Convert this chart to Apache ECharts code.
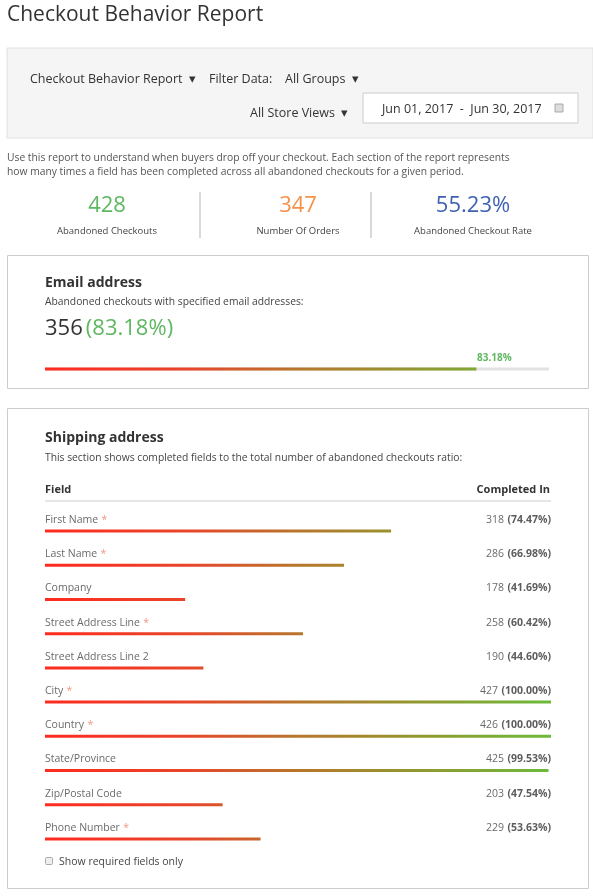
<!DOCTYPE html>
<html>
<head>
<meta charset="utf-8">
<script src="https://cdn.jsdelivr.net/npm/echarts@6/dist/echarts.min.js"></script>
<style>
  html, body { margin: 0; padding: 0; background: #fff; }
  #chart { width: 593px; height: 896px; }
</style>
</head>
<body>
<div id="chart"></div>
<script>
const fields = ['First Name', 'Last Name', 'Company', 'Street Address Line', 'Street Address Line 2',
  'City', 'Country', 'State/Province', 'Zip/Postal Code', 'Phone Number'];
const required = [true, true, false, true, false, true, true, false, false, true];
const counts = [318, 286, 178, 258, 190, 427, 426, 425, 203, 229];
const percents = ['74.47%', '66.98%', '41.69%', '60.42%', '44.60%', '100.00%', '100.00%', '99.53%', '47.54%', '53.63%'];
// bar lengths as drawn in the picture (share of full track)
const barFill = [68.4, 59.1, 27.7, 51.0, 31.3, 100, 100, 99.5, 35.1, 42.6];

const kpiValues = ['428', '347', '55.23%'];
const kpiLabels = ['Abandoned Checkouts', 'Number Of Orders', 'Abandoned Checkout Rate'];
const kpiColors = ['#5fb760', '#f5924a', '#3f62b3'];

const emailCount = 356;
const emailPercent = '83.18%';
const emailFill = [85.6];

const FONT = '"Open Sans", sans-serif';
const chart = echarts.init(document.getElementById('chart'));

const grad = () => new echarts.graphic.LinearGradient(45, 0, 551, 0, [
  { offset: 0, color: '#ff2a1f' },
  { offset: 0.28, color: '#e8452a' },
  { offset: 0.5, color: '#b8762b' },
  { offset: 0.75, color: '#8f9a2f' },
  { offset: 1, color: '#6cba3a' }
], true);

const txt = (x, y, text, style) => ({
  type: 'text', x, y,
  style: Object.assign({ text, fontFamily: FONT, fontSize: 11, fill: '#555', verticalAlign: 'middle' }, style)
});

const graphics = [
  txt(7, 15, 'Checkout Behavior Report', { fontSize: 21, fill: '#333' }),
  { type: 'rect', shape: { x: 7, y: 48, width: 586, height: 90 }, style: { fill: '#f5f5f5', stroke: '#e0e0e0', lineWidth: 1 } },
  txt(30, 79, 'Checkout Behavior Report  ▾', { fontSize: 12.5, fill: '#333' }),
  txt(209, 79, 'Filter Data:', { fontSize: 12.5, fill: '#333' }),
  txt(285, 79, 'All Groups  ▾', { fontSize: 12.5, fill: '#333' }),
  txt(250, 113, 'All Store Views  ▾', { fontSize: 12.5, fill: '#333' }),
  { type: 'rect', shape: { x: 363, y: 93, width: 215, height: 30 }, style: { fill: '#fff', stroke: '#ccc' } },
  txt(382, 109, 'Jun 01, 2017  -  Jun 30, 2017', { fontSize: 12.5, fill: '#333' }),
  { type: 'rect', shape: { x: 555, y: 104, width: 8, height: 8 }, style: { fill: '#ddd', stroke: '#999', lineWidth: 0.8 } },
  txt(7, 158, 'Use this report to understand when buyers drop off your checkout. Each section of the report represents', { fontSize: 10.3 }),
  txt(7, 172, 'how many times a field has been completed across all abandoned checkouts for a given period.', { fontSize: 10.3 }),
  { type: 'line', shape: { x1: 200, y1: 192, x2: 200, y2: 238 }, style: { stroke: '#ccc', lineWidth: 1.5 } },
  { type: 'line', shape: { x1: 371, y1: 192, x2: 371, y2: 238 }, style: { stroke: '#ccc', lineWidth: 1.5 } },

  { type: 'rect', shape: { x: 7.5, y: 255.5, width: 581, height: 133 }, style: { fill: 'none', stroke: '#ccc' } },
  txt(45, 283, 'Email address', { fontSize: 14, fontWeight: 'bold', fill: '#333' }),
  txt(45, 302, 'Abandoned checkouts with specified email addresses:', { fontSize: 10.3, fill: '#444' }),
  { type: 'text', x: 45, y: 329, style: {
      text: '{a|' + emailCount + '} {b|(' + emailPercent + ')}', fontFamily: FONT, verticalAlign: 'middle',
      rich: { a: { fontSize: 22, fill: '#333', fontFamily: FONT }, b: { fontSize: 22, fill: '#5fb760', fontFamily: FONT } } } },
  txt(477, 358, emailPercent, { fontSize: 10, fontWeight: 'bold', fill: '#5fb760' }),

  { type: 'rect', shape: { x: 7.5, y: 408.5, width: 581, height: 480 }, style: { fill: 'none', stroke: '#ccc' } },
  txt(45, 438, 'Shipping address', { fontSize: 14, fontWeight: 'bold', fill: '#333' }),
  txt(45, 458, 'This section shows completed fields to the total number of abandoned checkouts ratio:', { fontSize: 10.3, fill: '#444' }),
  txt(45, 490, 'Field', { fontSize: 11, fontWeight: 'bold', fill: '#333' }),
  txt(550, 490, 'Completed In', { fontSize: 11, fontWeight: 'bold', fill: '#333', align: 'right' }),
  { type: 'line', shape: { x1: 45, y1: 501, x2: 551, y2: 501 }, style: { stroke: '#ccc', lineWidth: 1 } },
  { type: 'rect', shape: { x: 45.5, y: 857.5, width: 7, height: 7, r: 1 }, style: { fill: '#eee', stroke: '#aaa' } },
  txt(59, 862, 'Show required fields only', { fontSize: 10.5, fill: '#444' })
];
kpiValues.forEach((v, i) => {
  const cx = [107, 298, 473][i];
  graphics.push(txt(cx, 206, v, { fontSize: 22, fill: kpiColors[i], align: 'center' }));
  graphics.push(txt(cx, 231, kpiLabels[i], { fontSize: 9.5, fill: '#444', align: 'center' }));
});

const rowNames = fields.map((f, i) => ({
  value: [0, i],
  label: { formatter: '{n|' + f + '}' + (required[i] ? ' {s|*}' : '') }
}));
const rowValues = counts.map((c, i) => ({
  value: [100, i],
  label: { formatter: '{c|' + c + '} {p|(' + percents[i] + ')}' }
}));

chart.setOption({
  animation: false,
  graphic: graphics,
  grid: [
    { left: 45, width: 506, top: 514, height: 342 },
    { left: 45, width: 504, top: 367, height: 4 }
  ],
  xAxis: [
    { type: 'value', min: 0, max: 100, show: false, gridIndex: 0 },
    { type: 'value', min: 0, max: 100, show: false, gridIndex: 1 }
  ],
  yAxis: [
    { type: 'category', data: fields, inverse: true, show: false, gridIndex: 0 },
    { type: 'category', data: ['Email'], show: false, gridIndex: 1 }
  ],
  series: [
    {
      type: 'bar', xAxisIndex: 0, yAxisIndex: 0, barWidth: 3, data: barFill,
      itemStyle: { color: grad() }, silent: true
    },
    {
      type: 'scatter', xAxisIndex: 0, yAxisIndex: 0, symbolSize: 0, data: rowNames, silent: true,
      label: { show: true, position: [0, -11], align: 'left', verticalAlign: 'middle',
        rich: { n: { fontFamily: FONT, fontSize: 10.5, color: '#444' }, s: { fontFamily: FONT, fontSize: 10.5, color: '#f07a60' } } }
    },
    {
      type: 'scatter', xAxisIndex: 0, yAxisIndex: 0, symbolSize: 0, data: rowValues, silent: true,
      label: { show: true, position: [0, -11], align: 'right', verticalAlign: 'middle',
        rich: { c: { fontFamily: FONT, fontSize: 10.5, color: '#444' }, p: { fontFamily: FONT, fontSize: 10.5, color: '#333', fontWeight: 'bold' } } }
    },
    {
      type: 'bar', xAxisIndex: 1, yAxisIndex: 1, barWidth: 3, data: emailFill, silent: true,
      showBackground: true, backgroundStyle: { color: '#e2e2e2' },
      itemStyle: { color: grad() }
    }
  ]
});
</script>
</body>
</html>
